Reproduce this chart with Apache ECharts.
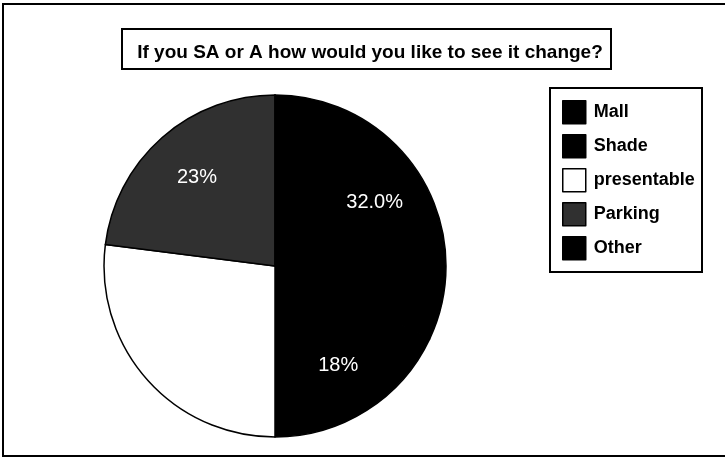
<!DOCTYPE html>
<html>
<head>
<meta charset="utf-8">
<script src="https://cdn.jsdelivr.net/npm/echarts@6/dist/echarts.min.js"></script>
<style>
  html, body { margin: 0; padding: 0; background: #fff; }
  #chart { width: 725px; height: 457px; }
</style>
</head>
<body>
<div id="chart"></div>
<script>
// survey answers
var categories = ['Mall', 'Shade', 'presentable', 'Parking', 'Other'];
var values = [32, 18, 27, 23, 0];
var labels = ['32.0%', '18%', '', '23%', ''];
var colors = ['#000000', '#000000', '#ffffff', '#303030', '#000000'];
var titleText = 'If you SA or A how would you like to see it change?';

var font = '"Liberation Sans", Arial, Helvetica, sans-serif';

var chart = echarts.init(document.getElementById('chart'));

var pieData = categories.map(function (name, i) {
  return {
    name: name,
    value: values[i],
    itemStyle: { color: colors[i] }
  };
});

// second (transparent) ring only carries the labels, so they sit further out than "inside" would put them
var labelData = categories.map(function (name, i) {
  return {
    name: name,
    value: values[i],
    label: { formatter: labels[i] }
  };
});

var option = {
  animation: false,
  backgroundColor: '#fff',
  title: {
    text: titleText,
    left: 365,
    top: 38,
    textAlign: 'center',
    textStyle: { fontFamily: font, fontSize: 19, fontWeight: 'bold', color: '#000' }
  },
  legend: {
    orient: 'vertical',
    left: 562,
    top: 100,
    icon: 'rect',
    itemWidth: 23,
    itemHeight: 23,
    itemGap: 9.5,
    padding: 0,
    selectedMode: false,
    data: categories,
    textStyle: { fontFamily: font, fontSize: 18, fontWeight: 'bold', color: '#000', padding: [0, 0, 0, 3] },
    itemStyle: { borderColor: '#000', borderWidth: 1.5 }
  },
  graphic: [
    { type: 'rect', shape: { x: 3, y: 4, width: 740, height: 452 },
      style: { fill: null, stroke: '#000', lineWidth: 2 }, silent: true },
    { type: 'rect', shape: { x: 122, y: 29, width: 489, height: 40 },
      style: { fill: null, stroke: '#000', lineWidth: 2 }, silent: true },
    { type: 'rect', shape: { x: 550, y: 88, width: 152, height: 184 },
      style: { fill: null, stroke: '#000', lineWidth: 2 }, silent: true }
  ],
  series: [
    {
      type: 'pie',
      center: [275, 266],
      radius: 171,
      startAngle: 90,
      clockwise: true,
      avoidLabelOverlap: false,
      label: { show: false },
      labelLine: { show: false },
      itemStyle: { borderColor: '#000', borderWidth: 1.5 },
      data: pieData
    },
    {
      type: 'pie',
      center: [275, 266],
      radius: [59, 171],
      startAngle: 90,
      clockwise: true,
      silent: true,
      avoidLabelOverlap: false,
      itemStyle: { color: 'rgba(0,0,0,0)', borderWidth: 0 },
      label: {
        show: true,
        position: 'inside',
        color: '#fff',
        fontFamily: font,
        fontSize: 20
      },
      labelLine: { show: false },
      data: labelData
    }
  ]
};

chart.setOption(option);
</script>
</body>
</html>
